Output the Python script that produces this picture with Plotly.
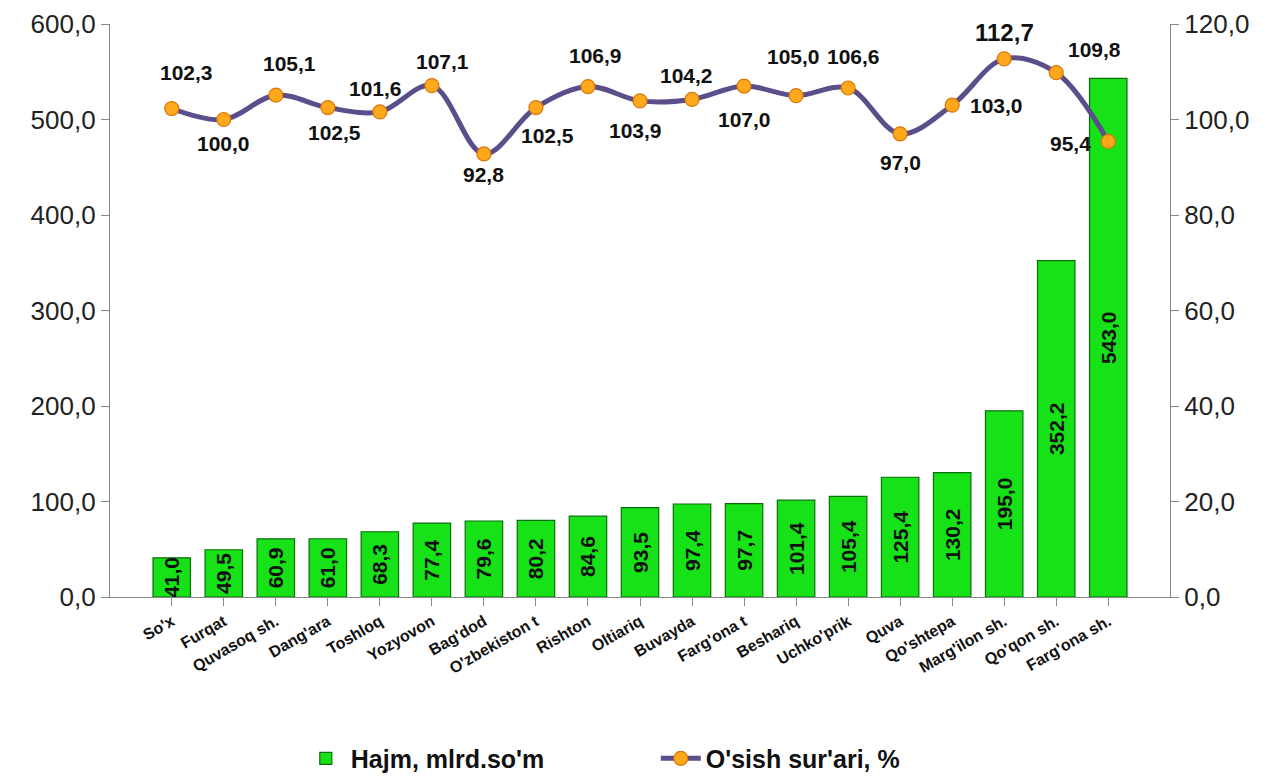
import plotly.graph_objects as go

categories = ["So'x", "Furqat", "Quvasoq sh.", "Dang'ara", "Toshloq", "Yozyovon", "Bag'dod",
              "O'zbekiston t", "Rishton", "Oltiariq", "Buvayda", "Farg'ona t", "Beshariq",
              "Uchko'prik", "Quva", "Qo'shtepa", "Marg'ilon sh.", "Qo'qon sh.", "Farg'ona sh."]
volume = [41.0, 49.5, 60.9, 61.0, 68.3, 77.4, 79.6, 80.2, 84.6, 93.5, 97.4, 97.7, 101.4,
          105.4, 125.4, 130.2, 195.0, 352.2, 543.0]
growth = [102.3, 100.0, 105.1, 102.5, 101.6, 107.1, 92.8, 102.5, 106.9, 103.9, 104.2, 107.0,
          105.0, 106.6, 97.0, 103.0, 112.7, 109.8, 95.4]
left_ticks = [0, 100, 200, 300, 400, 500, 600]
right_ticks = [0, 20, 40, 60, 80, 100, 120]

# label placement styling for the growth line (pixel offsets from each marker)
label_dx = [15, 0, 14, 7, -4, 11, 0, 12, 8, -5, -6, 0, -3, 5, 0, 16, 0, 38, -15]
label_dy = [36, -24, 32, -25, 23, 24, -21, -28, 31, -30, 24, -33, 39, 31, -29, 0, 26, 23, -2]
label_anchor = ["center"] * 15 + ["left", "center", "center", "right"]
label_size = [21] * 16 + [24, 21, 21]

FONT = "Arial, Liberation Sans, sans-serif"


def fmt(v):
    return f"{v:.1f}".replace(".", ",")


fig = go.Figure()
fig.add_trace(go.Bar(
    x=categories, y=volume, name="Hajm, mlrd.so'm",
    marker=dict(color="#17E117", line=dict(color="#0B6E0B", width=1.2)),
    text=[fmt(v) for v in volume],
    textposition="inside", insidetextanchor="middle", textangle=-90,
    textfont=dict(family=FONT, size=21, color="#111111", weight="bold"),
    constraintext="none", cliponaxis=False,
))
fig.add_trace(go.Scatter(
    x=categories, y=growth, name="O'sish sur'ari, %", yaxis="y2",
    mode="lines+markers",
    line=dict(color="#5B4E8A", width=5, shape="spline", smoothing=1.0),
    marker=dict(color="#FFA81C", size=14, line=dict(color="#D9780A", width=1.2)),
    cliponaxis=False,
))

for c, g, dx, dy, anc, sz in zip(categories, growth, label_dx, label_dy, label_anchor, label_size):
    fig.add_annotation(
        x=c, y=g, xref="x", yref="y2", text=fmt(g), showarrow=False,
        xanchor=anc, yanchor="middle", xshift=dx, yshift=dy,
        font=dict(family=FONT, size=sz, color="#111111", weight="bold"),
    )

axis_common = dict(showline=True, linecolor="#888888", linewidth=1.2, ticks="outside",
                   ticklen=8, tickcolor="#888888", showgrid=False, automargin=False)

fig.update_layout(
    width=1279, height=774,
    margin=dict(l=102, r=117, t=16, b=185, autoexpand=False),
    plot_bgcolor="white", paper_bgcolor="white",
    separators=", ",
    bargap=0.28,
    font=dict(family=FONT, color="#222222"),
    uniformtext=dict(minsize=21, mode="show"),
    xaxis=dict(
        tickangle=-30, tickfont=dict(family=FONT, size=16, color="#111111", weight="bold"),
        **axis_common,
    ),
    yaxis=dict(
        range=[0, 600], tickvals=left_ticks, tickformat=".1f", zeroline=False,
        tickfont=dict(family=FONT, size=26, color="#222222"),
        **axis_common,
    ),
    yaxis2=dict(
        range=[0, 120], tickvals=right_ticks, tickformat=".1f", overlaying="y", side="right",
        zeroline=False, tickfont=dict(family=FONT, size=26, color="#222222"),
        **axis_common,
    ),
    legend=dict(
        orientation="h", x=0.18, xanchor="left", y=-0.282, yanchor="middle",
        font=dict(family=FONT, size=25, color="#111111", weight="bold"),
        entrywidth=300, itemwidth=40,
    ),
)

fig.write_html("out.html")
